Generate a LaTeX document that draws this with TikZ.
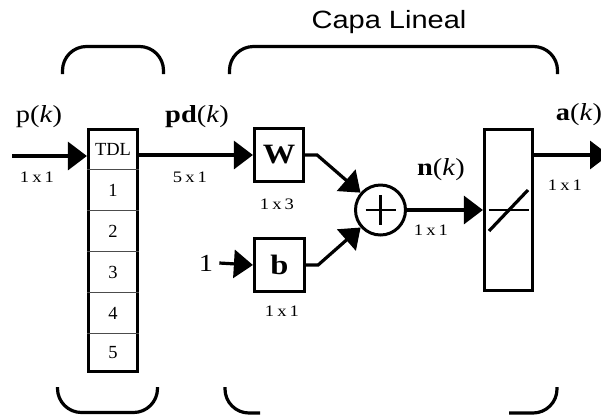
\documentclass[tikz,border=0pt]{standalone}
\usepackage{fontspec}
\setmainfont{Liberation Serif}
\newfontfamily\capafont{Liberation Sans}
\usetikzlibrary{arrows.meta}
\newcommand{\hst}[1]{\scalebox{1.16}[1]{#1}}
\begin{document}
\begin{tikzpicture}[x=1pt,y=-1pt,
  box/.style={draw, line width=3.2pt, inner sep=0pt},
  arr/.style={line width=3.2pt, -{Triangle[length=19pt,width=28pt]}},
  brk/.style={line width=3.2pt, rounded corners=24pt},
  lbl/.style={font=\fontsize{24.5}{26}\selectfont, inner sep=0pt},
  dimlbl/.style={font=\fontsize{16}{18}\selectfont, inner sep=0pt},
  celltxt/.style={font=\fontsize{18.5}{20}\selectfont, inner sep=0pt},
  wlbl/.style={font=\fontsize{28}{30}\selectfont\bfseries, inner sep=0pt},
  divider/.style={line width=1pt, black!70}
]
\useasboundingbox (0,0) rectangle (601,416);
\fill[white] (0,0) rectangle (601,416);

% brackets
\draw[brk] (62.5,74) -- (62.5,46.5) -- (163.5,46.5) -- (163.5,74);
\draw[brk] (229.5,74) -- (229.5,46.5) -- (557.5,46.5) -- (557.5,74);
\draw[brk] (57.5,387) -- (57.5,412.5) -- (157.5,412.5) -- (157.5,387);
\draw[brk] (225,387) -- (225,413) -- (260,413);
\draw[brk] (509,413) -- (557,413) -- (557,387);

\node[font=\capafont\fontsize{25}{27}\selectfont, inner sep=0pt] (title) at (389,22) {\hst{Capa Lineal}};

% TDL block
\node[box, minimum width=49pt, minimum height=242pt] (tdl) at (113,250.5) {};
\foreach \yy in {169,210,251,292,333} {
  \draw[divider] (tdl.west |- 0,\yy) -- (tdl.east |- 0,\yy);
}
\node[celltxt] (c0) at (113,149) {TDL};
\node[celltxt] (c1) at (113,190) {1};
\node[celltxt] (c2) at (113,231) {2};
\node[celltxt] (c3) at (113,272) {3};
\node[celltxt] (c4) at (113,313) {4};
\node[celltxt] (c5) at (113,353) {5};

% W and b
\node[box, minimum width=49pt, minimum height=53pt] (W) at (279,155) {};
\node[wlbl] (Wt) at (W.center) {\hst{W}};
\node[box, minimum width=50pt, minimum height=53pt] (b) at (279.5,265) {};
\node[wlbl] (bt) at (b.center) {\hst{b}};

% summation
\node[draw, circle, line width=3pt, minimum size=50pt, inner sep=0pt] (sum) at (380.5,210) {};
\draw[line width=2.6pt] (sum.center) ++(-15,0) -- ++(30,0);
\draw[line width=2.6pt] (sum.center) ++(0,-15) -- ++(0,30);

% transfer block
\node[box, minimum width=48pt, minimum height=161pt] (tf) at (508.5,210) {};
\draw[line width=1.5pt] (tf.center) ++(-20,0) -- ++(40,0);
\draw[line width=3.2pt] (tf.center) ++(-19.5,21) -- ++(39,-41);

% coordinates for free ends
\coordinate (in) at (12,156);
\coordinate (out) at (609,155);
\node[lbl] (one) at (206,263) {\hst{1}};

% connectors
\draw[arr] (in) -- (tdl.west |- in);
\draw[arr] (tdl.east |- W) -- (W.west);
\draw[arr] (W.east) -- ++(12,0) -- (sum);
\draw[arr] (b.east) -- ++(12,0) -- (sum);
\draw[arr] (one.east) ++(6,0) -- (b.west);
\draw[arr] (sum.east) -- (tf.west |- sum);
\draw[arr] (tf.east |- out) -- (out);

% labels
\node[lbl] (lp) at (39,117) {\hst{p(\textit{k})}};
\node[dimlbl] (d1) at (37,177) {\hst{1\,x\,1}};
\node[lbl] (lpd) at (197,117) {\hst{\textbf{pd}(\textit{k})}};
\node[dimlbl] (d2) at (190,177) {\hst{5\,x\,1}};
\node[dimlbl] (d3) at (277,204) {\hst{1\,x\,3}};
\node[dimlbl] (d4) at (282,311) {\hst{1\,x\,1}};
\node[lbl] (ln) at (441,170) {\hst{\textbf{n}(\textit{k})}};
\node[dimlbl] (d5) at (431,230) {\hst{1\,x\,1}};
\node[lbl] (la) at (579,115) {\hst{\textbf{a}(\textit{k})}};
\node[dimlbl] (d6) at (565,185) {\hst{1\,x\,1}};
\end{tikzpicture}
\end{document}
